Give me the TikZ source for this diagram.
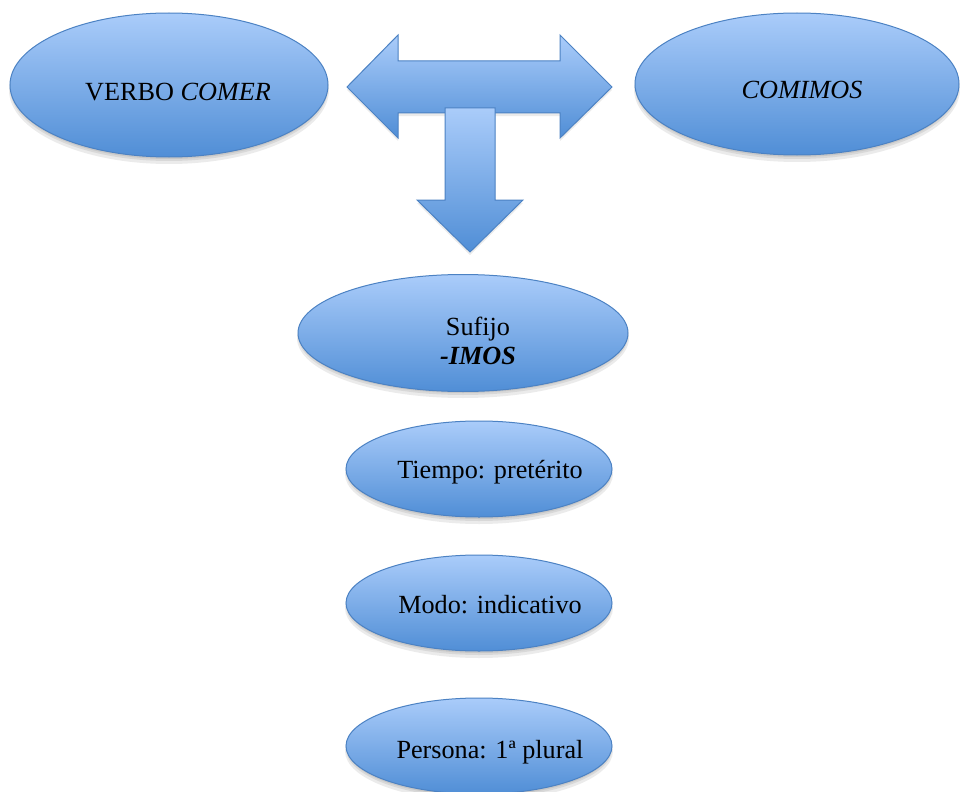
\documentclass[tikz,border=0pt]{standalone}
\usepackage{fontspec}
\setmainfont{Liberation Serif}
\usetikzlibrary{shapes.geometric}
\definecolor{topc}{RGB}{170,204,250}
\definecolor{botc}{RGB}{80,142,214}
\definecolor{edgec}{RGB}{76,130,195}
\tikzset{
  blob/.style={ellipse, draw=edgec, line width=1pt, top color=topc, bottom color=botc, inner sep=0pt},
  lbl/.style={font=\fontsize{26.2}{29}\selectfont, inner sep=0pt, text=black, anchor=base},
  shapebox/.style={draw=edgec, line width=1pt, top color=topc, bottom color=botc, line join=miter},
  shd/.style={fill=black, opacity=0.08},
}
\newcommand\blobshadow[4]{%
  \fill[shd] (#1,#2+5) ellipse [x radius=#3pt+1pt, y radius=#4pt+2pt];
  \fill[shd] (#1,#2+3) ellipse [x radius=#3pt, y radius=#4pt+1pt];
  \fill[shd] (#1,#2+2) ellipse [x radius=#3pt-1pt, y radius=#4pt];
}
\begin{document}
\begin{tikzpicture}[x=1pt,y=-1pt]
\useasboundingbox[fill=white] (0,0) rectangle (962,792);

% shadows
\blobshadow{169}{85}{159}{72}
\blobshadow{797}{84}{162}{71}
\blobshadow{463}{333}{165}{58}
\blobshadow{479}{469}{133}{48}
\blobshadow{479}{603}{133}{48}
\blobshadow{479}{746}{133}{48}

% ellipses
\node[blob, minimum width=318, minimum height=144] (verbo) at (169,85) {};
\node[blob, minimum width=324, minimum height=142] (comimos) at (797,84) {};
\node[blob, minimum width=330, minimum height=117] (sufijo) at (463,333) {};
\node[blob, minimum width=266, minimum height=96] (tiempo) at (479,469) {};
\node[blob, minimum width=266, minimum height=96] (modo) at (479,603) {};
\node[blob, minimum width=266, minimum height=96] (persona) at (479,746) {};

% arrow shapes (shadow then body)
\fill[shd] ([yshift=-3pt]347,87) -- ++(51,-52) -- ++(0,26) -- ++(162,0) -- ++(0,-26) -- ++(52,52) -- ++(-52,51) -- ++(0,-25) -- ++(-162,0) -- ++(0,25) -- cycle;
\path[shapebox] (347,87) -- (398,35) -- (398,61) -- (560,61) -- (560,35) -- (612,87) -- (560,138) -- (560,113) -- (398,113) -- (398,138) -- cycle;
\fill[shd] ([yshift=-3pt]445,108) -- ++(50,0) -- ++(0,92) -- ++(28,0) -- ++(-53,52) -- ++(-53,-52) -- ++(28,0) -- cycle;
\path[shapebox] (445,108) -- (495,108) -- (495,200) -- (523,200) -- (470,252) -- (417,200) -- (445,200) -- cycle;

% texts
\node[lbl] (tverbo) at (178,100) {VERBO \textit{COMER}};
\node[lbl] (tcomimos) at (802,99) {\textit{COMIMOS}};
\node[lbl] (tsuf1) at (478,335) {Sufijo};
\node[lbl] (tsuf2) at (478,364) {\textbf{\textit{-IMOS}}};
\node[lbl] (ttiempo) at (490,478) {Tiempo: pretérito};
\node[lbl] (tmodo) at (490,613) {Modo: indicativo};
\node[lbl] (tpersona) at (490,758) {Persona: 1ª plural};
\end{tikzpicture}
\end{document}
